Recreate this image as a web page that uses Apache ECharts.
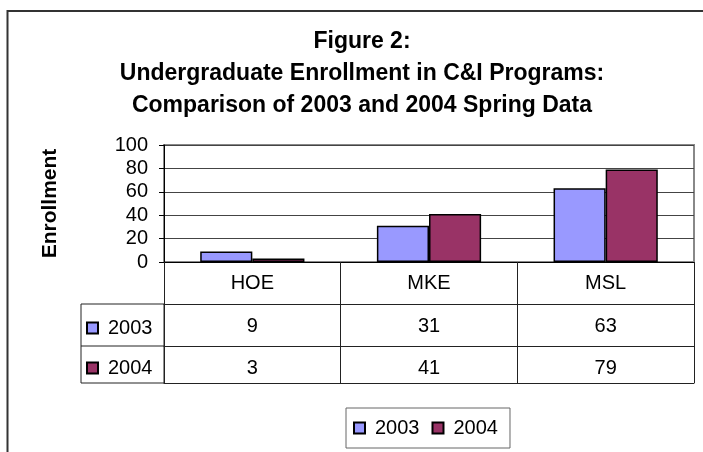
<!DOCTYPE html>
<html>
<head>
<meta charset="utf-8">
<script src="https://cdn.jsdelivr.net/npm/echarts@6/dist/echarts.min.js"></script>
<style>
  html, body { margin: 0; padding: 0; background: #fff; }
  #chart { width: 703px; height: 452px; }
</style>
</head>
<body>
<div id="chart"></div>
<script>
var categories = ['HOE', 'MKE', 'MSL']
var seriesNames = ['2003', '2004']
var enroll2003 = [9, 31, 63]
var enroll2004 = [3, 41, 79]
var yMin = 0
var yMax = 100
var yStep = 20

var font = '"Liberation Sans", Arial, sans-serif'
var colors = ['#9999FF', '#993366']

var chart = echarts.init(document.getElementById('chart'))

// table rows below the plot are extra x axes holding the values as labels
function rowAxis(values, offset) {
  return {
    type: 'category',
    position: 'bottom',
    offset: offset,
    data: values.map(String),
    axisLine: { show: true, lineStyle: { color: '#222', width: 1 } },
    axisTick: { show: false },
    axisLabel: { color: '#000', fontSize: 20, fontFamily: font, margin: 12 },
    splitLine: { show: false }
  }
}

function rowLegend(name, top) {
  return {
    data: [name],
    left: 81,
    top: top,
    selectedMode: false,
    icon: 'rect',
    itemWidth: 11,
    itemHeight: 11,
    textStyle: { fontSize: 20, color: '#000', padding: [0, 0, 0, 5] }
  }
}

chart.setOption({
  animation: false,
  backgroundColor: '#fff',
  textStyle: { fontFamily: font },
  title: {
    text: 'Figure 2:\nUndergraduate Enrollment in C&I Programs:\nComparison of 2003 and 2004 Spring Data',
    left: 357,
    top: 21,
    textAlign: 'center',
    textStyle: {
      fontFamily: font,
      fontSize: 23,
      fontWeight: 'bold',
      color: '#000',
      lineHeight: 32
    }
  },
  grid: {
    left: 164,
    right: 9,
    top: 145,
    bottom: 190,
    show: true,
    borderColor: '#888',
    borderWidth: 2
  },
  legend: [
    rowLegend(seriesNames[0], 313),
    rowLegend(seriesNames[1], 353),
    {
      data: seriesNames,
      left: 346,
      top: 408,
      selectedMode: false,
      icon: 'rect',
      itemWidth: 11,
      itemHeight: 11,
      itemGap: 12,
      padding: [10, 12, 10, 7],
      borderColor: '#666',
      borderWidth: 1,
      textStyle: { fontSize: 20, color: '#000', padding: [0, 0, 0, 5] }
    }
  ],
  xAxis: [
    {
      type: 'category',
      data: categories,
      axisLine: { show: true, lineStyle: { color: '#000', width: 1 } },
      axisTick: { show: true, inside: false, length: 121, lineStyle: { color: '#222' } },
      axisLabel: { color: '#000', fontSize: 20, fontFamily: font, margin: 11 },
      splitLine: { show: false }
    },
    rowAxis(enroll2003, 42),
    rowAxis(enroll2004, 84),
    {
      type: 'category',
      position: 'bottom',
      offset: 121,
      data: categories,
      axisLine: { show: true, lineStyle: { color: '#222', width: 1 } },
      axisTick: { show: false },
      axisLabel: { show: false }
    }
  ],
  yAxis: {
    type: 'value',
    min: yMin,
    max: yMax,
    interval: yStep,
    name: 'Enrollment',
    nameLocation: 'middle',
    nameGap: 103,
    nameTextStyle: { fontSize: 21, fontWeight: 'bold', color: '#000', fontFamily: font },
    axisLine: { show: true, lineStyle: { color: '#000', width: 1 } },
    axisTick: { show: true, length: 5, lineStyle: { color: '#000' } },
    axisLabel: { color: '#000', fontSize: 20, fontFamily: font, margin: 16 },
    splitLine: { show: true, lineStyle: { color: '#444', width: 1 } }
  },
  graphic: [
    {
      type: 'polyline',
      shape: { points: [[7.5, 452], [7.5, 11], [703, 11]] },
      style: { stroke: '#333', lineWidth: 2, fill: null },
      silent: true
    },
    {
      type: 'rect',
      shape: { x: 81, y: 304, width: 83, height: 79 },
      style: { stroke: '#222', lineWidth: 1, fill: null },
      silent: true
    },
    {
      type: 'line',
      shape: { x1: 81, y1: 346, x2: 164, y2: 346 },
      style: { stroke: '#222', lineWidth: 1 },
      silent: true
    }
  ],
  series: [
    {
      name: seriesNames[0],
      type: 'bar',
      data: enroll2003,
      barGap: '0%',
      barCategoryGap: '41%',
      itemStyle: { color: colors[0], borderColor: '#000', borderWidth: 1.5 }
    },
    {
      name: seriesNames[1],
      type: 'bar',
      data: enroll2004,
      barGap: '0%',
      barCategoryGap: '41%',
      itemStyle: { color: colors[1], borderColor: '#000', borderWidth: 1.5 }
    }
  ]
})
</script>
</body>
</html>
